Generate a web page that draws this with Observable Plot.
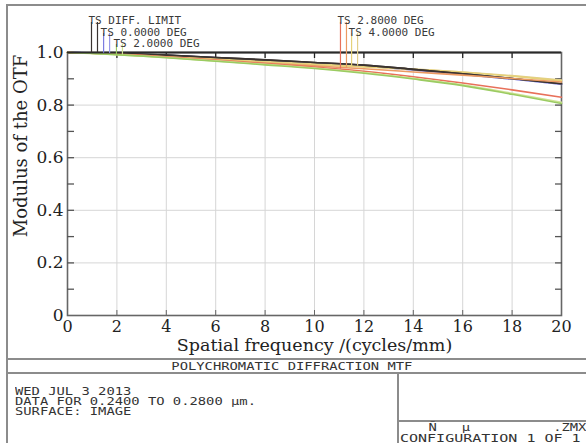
<!DOCTYPE html>
<html><head><meta charset="utf-8">
<script src="https://cdn.jsdelivr.net/npm/d3@7"></script>
<script src="https://cdn.jsdelivr.net/npm/@observablehq/plot@0.6"></script>
<style>
html,body{margin:0;padding:0;background:#fff;}
#wrap{position:relative;width:586px;height:443px;overflow:hidden;background:#fff;}
#chart{position:absolute;left:0;top:0;}
.zx{position:absolute;font-family:"DejaVu Sans Mono",monospace;font-size:10px;line-height:9px;color:#333;white-space:pre;transform-origin:0 0;}
.ln{position:absolute;background:#8c8c8c;}
</style></head><body>
<div id="wrap">
<div id="chart"></div>
<div class="ln" style="left:6px;top:4px;width:580px;height:2px"></div>
<div class="ln" style="left:6px;top:4px;width:2px;height:439px"></div>
<div class="ln" style="left:6px;top:358px;width:580px;height:1.5px"></div>
<div class="ln" style="left:6px;top:372px;width:580px;height:1.5px"></div>
<div class="ln" style="left:397px;top:372px;width:1.5px;height:71px"></div>
<div class="ln" style="left:397px;top:420px;width:189px;height:1.5px"></div>
<div id="footer"></div>
</div>
<script>
// ---- data ----
const freq = [0, 2, 4, 6, 8, 10, 12, 14, 16, 18, 20];
const diffLimit = [1.000, 0.997, 0.990, 0.981, 0.972, 0.962, 0.952, 0.936, 0.919, 0.901, 0.881];
const deg0      = [1.000, 0.996, 0.989, 0.980, 0.970, 0.960, 0.949, 0.934, 0.917, 0.899, 0.879];
const deg2T     = [1.000, 0.992, 0.980, 0.967, 0.953, 0.939, 0.921, 0.899, 0.874, 0.841, 0.806];
const deg2S     = [1.000, 0.992, 0.981, 0.968, 0.955, 0.941, 0.924, 0.902, 0.877, 0.845, 0.811];
const deg28T    = [1.000, 0.993, 0.982, 0.970, 0.958, 0.945, 0.929, 0.908, 0.884, 0.858, 0.830];
const deg28S    = [1.000, 0.994, 0.984, 0.972, 0.960, 0.949, 0.938, 0.926, 0.914, 0.901, 0.888];
const deg4T     = [1.000, 0.995, 0.986, 0.975, 0.964, 0.954, 0.945, 0.936, 0.925, 0.910, 0.892];
const deg4S     = [1.000, 0.995, 0.987, 0.977, 0.967, 0.957, 0.947, 0.937, 0.926, 0.912, 0.895];

const xTicks = [0, 2, 4, 6, 8, 10, 12, 14, 16, 18, 20];
const yTicks = [0, 0.2, 0.4, 0.6, 0.8, 1.0];
const yMinor = [0.1, 0.2, 0.3, 0.4, 0.5, 0.6, 0.7, 0.8, 0.9];

const legendLabels = ["TS DIFF. LIMIT", "TS 0.0000 DEG", "TS 2.0000 DEG", "TS 2.8000 DEG", "TS 4.0000 DEG"];
const legendStart  = [0.85, 1.34, 1.86, 10.93, 11.38];   // frequency where each label begins
const legendRow    = [0, 1, 2, 0, 1];

const xTitle = "Spatial frequency /(cycles/mm)";
const yTitle = "Modulus of the OTF";
const footerTitle = "POLYCHROMATIC DIFFRACTION MTF";
const footerInfo = ["WED JUL 3 2013", "DATA FOR 0.2400 TO 0.2800 \u00b5m.", "SURFACE: IMAGE"];
const footerFile = "\u00d1   \u00b5          .ZMX";
const footerConfig = "CONFIGURATION 1 OF 1";

// ---- series styling ----
const series = [
  {key: "0T", legend: 1, ts: 0, values: deg0, color: "#7d7de0"},
  {key: "0S", legend: 1, ts: 1, values: deg0, color: "#9a9ae8"},
  {key: "4S", legend: 4, ts: 1, values: deg4S, color: "#e2cf8c"},
  {key: "4T", legend: 4, ts: 0, values: deg4T, color: "#e6d27a"},
  {key: "DL", legend: 0, ts: 0, values: diffLimit, color: "#3a3330"},
  {key: "DS", legend: 0, ts: 1, values: diffLimit, color: "#3a3330"},
  {key: "28S", legend: 3, ts: 1, values: deg28S, color: "#ec9a62"},
  {key: "28T", legend: 3, ts: 0, values: deg28T, color: "#e8705a"},
  {key: "2S", legend: 2, ts: 1, values: deg2S, color: "#cfe394"},
  {key: "2T", legend: 2, ts: 0, values: deg2T, color: "#9bcb62"}
];

// ---- layout ----
const W = 586, H = 358, mL = 67, mR = 25, mT = 52, mB = 43;
const frameH = H - mT - mB, frameW = W - mL - mR;
const pxPerFreq = frameW / 20;
const rowCenter = [-36, -24.5, -13];   // px offset of each legend row above frame top
const lineTop = [-30, -19, -8];        // px offset where legend drop lines start
const tsOffset = [3, 9];               // px offset of T and S drop lines from label start

function interp(vals, f) {
  for (let i = 0; i < freq.length - 1; i++) {
    if (f >= freq[i] && f <= freq[i + 1]) {
      const t = (f - freq[i]) / (freq[i + 1] - freq[i]);
      return vals[i] + t * (vals[i + 1] - vals[i]);
    }
  }
  return vals[vals.length - 1];
}

const legendLines = series.map(s => {
  const fx = legendStart[s.legend] + tsOffset[s.ts] / pxPerFreq;
  return {
    x: fx,
    y1: interp(s.values, fx),
    y2: 1 + (-lineTop[legendRow[s.legend]]) / frameH,
    color: s.color
  };
});

const legendData = legendLabels.map((t, i) => ({t, x: legendStart[i], row: legendRow[i]}));

const serif = "DejaVu Serif";
const mono = "DejaVu Sans Mono";

const marks = [
  Plot.gridX(xTicks.slice(1, -1), {stroke: "#d6d6d6", strokeOpacity: 1, strokeWidth: 1}),
  Plot.gridY([0.2, 0.4, 0.6, 0.8], {stroke: "#d6d6d6", strokeOpacity: 1, strokeWidth: 1}),
  Plot.frame({stroke: "#666", strokeWidth: 1.6}),
  // inward ticks
  Plot.axisY(yMinor, {anchor: "left", tickSize: -7, text: null, stroke: "#555", strokeWidth: 1.3}),
  Plot.axisY(yMinor, {anchor: "right", tickSize: -7, text: null, stroke: "#555", strokeWidth: 1.3}),
  Plot.axisX(xTicks.slice(1, -1), {anchor: "bottom", tickSize: -5, text: null, stroke: "#666", strokeWidth: 1}),
  Plot.axisX(xTicks.slice(1, -1), {anchor: "top", tickSize: -5, text: null, stroke: "#222", strokeWidth: 1.3}),
  // labels
  Plot.axisY(yTicks, {anchor: "left", tickSize: 0, tickPadding: 4, fontSize: 17, fontFamily: serif,
    fill: "#222", tickFormat: d => d === 0 ? "0" : d.toFixed(1), label: null}),
  Plot.axisX(xTicks, {anchor: "bottom", tickSize: 0, tickPadding: 5, fontSize: 16, fontFamily: serif,
    fill: "#222", tickFormat: d => String(d), label: null}),
  Plot.text([xTitle], {frameAnchor: "bottom", dy: 35.5, text: d => d, fontSize: 17.5, fontFamily: serif, fill: "#222"}),
  Plot.text([yTitle], {frameAnchor: "left", dx: -46, dy: -38, rotate: -90, textAnchor: "middle",
    text: d => d, fontSize: 18, fontFamily: serif, fill: "#222"}),
  // curves
  ...series.map(s => Plot.line(freq.map((f, i) => ({f, v: s.values[i]})), {
    x: "f", y: "v", stroke: s.color, strokeWidth: 1.6, curve: "monotone-x"
  })),
  Plot.ruleY([1], {stroke: "#2a2a2a", strokeWidth: 1.8}),
  // legend drop lines
  Plot.ruleX(legendLines, {x: "x", y1: "y1", y2: "y2", stroke: "color", strokeWidth: 1.2}),
  // legend labels
  ...[0, 1, 2].map(r => Plot.text(legendData.filter(d => d.row === r), {
    x: "x", frameAnchor: "top", dy: rowCenter[r], text: "t", textAnchor: "start",
    fontSize: 11, fontFamily: mono, fill: "#3a3a3a"
  }))
];

const chart = Plot.plot({
  width: W, height: H,
  marginLeft: mL, marginRight: mR, marginTop: mT, marginBottom: mB,
  x: {domain: [0, 20], axis: null},
  y: {domain: [0, 1], axis: null},
  color: {type: "identity"},
  style: {background: "transparent", overflow: "visible"},
  marks
});
document.getElementById("chart").appendChild(chart);

// ---- footer ----
const footer = document.getElementById("footer");
function addText(txt, left, top, sx, center) {
  const d = document.createElement("div");
  d.className = "zx";
  d.textContent = txt;
  d.style.top = top + "px";
  if (center) {
    d.style.left = "0px"; d.style.width = "586px"; d.style.textAlign = "center";
    d.style.transformOrigin = "296px 0";
  } else {
    d.style.left = left + "px";
  }
  d.style.transform = `scaleX(${sx})`;
  footer.appendChild(d);
  return d;
}
addText(footerTitle, 0, 362, 1.38, true);
footerInfo.forEach((t, i) => addText(t, 15, 387 + i * 10.2, 1.38, false));
const fz = addText(footerFile, 0, 423, 1.38, false);
fz.style.left = "auto"; fz.style.right = "0px"; fz.style.transformOrigin = "100% 0";
addText(footerConfig, 400, 434, 1.5, false);
</script>
</body></html>
